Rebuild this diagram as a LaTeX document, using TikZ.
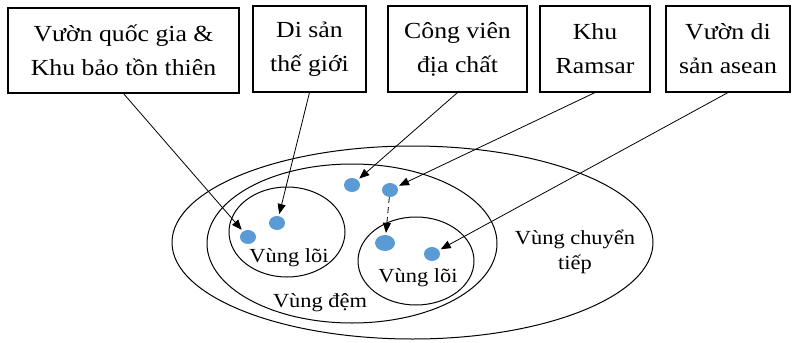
\documentclass[tikz,border=0pt]{standalone}
\usepackage{fontspec}
\setmainfont{Liberation Serif}
\newfontfamily\widefont[FakeStretch=1.12]{Liberation Serif}
\usetikzlibrary{shapes.geometric,arrows.meta}
\definecolor{dotblue}{HTML}{5B9BD5}
\tikzset{
  box/.style={draw=black, line width=1.1pt, rectangle, align=center, inner sep=0pt,
    font=\widefont\fontsize{23}{34}\selectfont},
  zone/.style={draw=black, line width=1pt, ellipse, inner sep=0pt},
  spot/.style={fill=dotblue, ellipse, inner sep=0pt, minimum width=16pt, minimum height=14pt},
  lbl/.style={font=\widefont\fontsize{20}{25}\selectfont, align=center, inner sep=0pt},
  pointer/.style={line width=0.8pt, -{Triangle[length=10pt,width=8pt]}, shorten >=2pt}
}
\begin{document}
\begin{tikzpicture}[x=1pt,y=-1pt]
\useasboundingbox (0,0) rectangle (796,343);
% boxes
\node[box, minimum width=231pt, minimum height=85pt] (b1) at (123.5,50.5) {Vườn quốc gia \&\\Khu bảo tồn thiên};
\node[box, minimum width=113pt, minimum height=86pt] (b2) at (309.5,49) {Di sản\\thế giới};
\node[box, minimum width=139pt, minimum height=86pt] (b3) at (457.5,49) {Công viên\\địa chất};
\node[box, minimum width=110pt, minimum height=86pt] (b4) at (595,49) {Khu\\Ramsar};
\node[box, minimum width=124pt, minimum height=86pt] (b5) at (728,49) {Vườn di\\sản asean};
% zones
\node[zone, minimum width=481pt, minimum height=193pt] (outer) at (412.5,242.5) {};
\node[zone, minimum width=290pt, minimum height=159pt] (buffer) at (352,243.5) {};
\node[zone, minimum width=116pt, minimum height=90pt] (core1) at (287,232) {};
\node[zone, minimum width=116pt, minimum height=88pt] (core2) at (416,261) {};
% labels
\node[lbl, anchor=base] (l1) at (289,262) {Vùng lõi};
\node[lbl, anchor=base] (l2) at (418,282) {Vùng lõi};
\node[lbl, anchor=base] (l3) at (320,307) {Vùng đệm};
\node[lbl] (l4) at (575,252) {Vùng chuyển\\tiếp};
% dots
\node[spot] (d1) at (248,237) {};
\node[spot] (d2) at (277,223) {};
\node[spot] (d3) at (352,185) {};
\node[spot] (d4) at (390,190) {};
\node[spot, minimum width=20pt, minimum height=16pt] (d5) at (385,243) {};
\node[spot] (d6) at (432,254) {};
% connectors
\draw[pointer] (b1.south) -- (d1);
\draw[pointer] (b2.south) -- (d2);
\draw[pointer] (b3.south) -- (d3);
\draw[pointer] (b4.south) -- (d4);
\draw[pointer] (b5.south) -- (d6);
\draw[pointer, dashed, dash pattern=on 6pt off 4pt] (d4) -- (d5);
\end{tikzpicture}
\end{document}
